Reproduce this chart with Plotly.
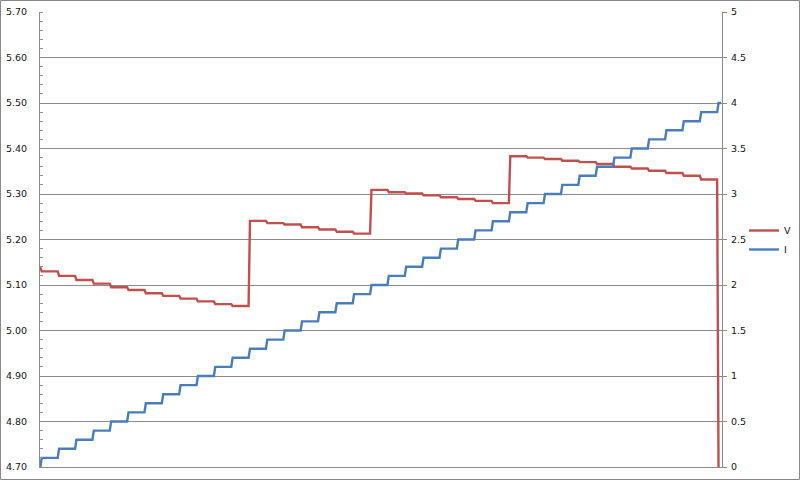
import plotly.graph_objects as go

# --- data ---
# time (s) at which each current level begins
step_times = [0, 1, 11, 21, 31, 41, 51, 61, 71, 81, 91, 101, 111, 121, 131, 141, 151,
              161, 171, 181, 191, 201, 211, 221, 231, 241, 251, 261, 271, 281, 291,
              301, 311, 321, 331, 341, 351, 361, 371, 381, 391]
# current level (A) held during each step
current_levels = [0.0, 0.1, 0.2, 0.3, 0.4, 0.5, 0.6, 0.7, 0.8, 0.9, 1.0, 1.1, 1.2, 1.3,
                  1.4, 1.5, 1.6, 1.7, 1.8, 1.9, 2.0, 2.1, 2.2, 2.3, 2.4, 2.5, 2.6, 2.7,
                  2.8, 2.9, 3.0, 3.1, 3.2, 3.3, 3.4, 3.5, 3.6, 3.7, 3.8, 3.9, 4.0]
# voltage (V) held during each step
voltage_levels = [5.138, 5.130, 5.120, 5.111, 5.103, 5.095, 5.089, 5.082, 5.076, 5.070,
                  5.064, 5.058, 5.054, 5.241, 5.236, 5.233, 5.227, 5.222, 5.217, 5.213,
                  5.309, 5.304, 5.301, 5.297, 5.293, 5.289, 5.285, 5.280, 5.383, 5.380,
                  5.377, 5.373, 5.370, 5.366, 5.360, 5.356, 5.351, 5.346, 5.340, 5.332,
                  4.700]
end_time = 392.5
v_ticks_left = [4.70, 4.80, 4.90, 5.00, 5.10, 5.20, 5.30, 5.40, 5.50, 5.60, 5.70]
i_ticks_right = [0, 0.5, 1, 1.5, 2, 2.5, 3, 3.5, 4, 4.5, 5]

RAMP = 0.8


def staircase(times, levels, t_end):
    xs, ys = [], []
    for i, lvl in enumerate(levels):
        t0 = times[i]
        t1 = (times[i + 1] - RAMP) if i + 1 < len(levels) else t_end
        xs += [t0, t1]
        ys += [lvl, lvl]
    return xs, ys


ix, iy = staircase(step_times, current_levels, end_time)
vx, vy = staircase(step_times, voltage_levels, end_time)
# voltage collapses right at the final step
vx = vx[:-1] + [step_times[-1] + 0.3]
vy = vy[:-1] + [voltage_levels[-1]]

RED = "#C0504D"
BLUE = "#4A7EBB"
GRID = "#8C8C8C"
FONT = dict(family="DejaVu Sans", size=9.5, color="#111111")

fig = go.Figure()
fig.add_trace(go.Scatter(x=vx, y=vy, mode="lines", name="V",
                         line=dict(color=RED, width=2.4), yaxis="y"))
fig.add_trace(go.Scatter(x=ix, y=iy, mode="lines", name="I",
                         line=dict(color=BLUE, width=2.4), yaxis="y2"))

L, R, T, B = 40, 78, 12, 13
W, H = 800, 480
pw, ph = W - L - R, H - T - B

fig.update_layout(
    width=W, height=H,
    margin=dict(l=L, r=R, t=T, b=B, pad=0, autoexpand=False),
    paper_bgcolor="white", plot_bgcolor="white",
    font=FONT,
    showlegend=True,
    legend=dict(x=(744 - L) / pw, y=(H - B - 216) / ph, xanchor="left", yanchor="top",
                bgcolor="rgba(0,0,0,0)", font=FONT, tracegroupgap=0),
    xaxis=dict(range=[0, 393], showticklabels=False, showgrid=False, zeroline=False,
               showline=True, linecolor=GRID, linewidth=1, ticks="", automargin=False),
    yaxis=dict(range=[4.69999, 5.70001], tickvals=v_ticks_left, tickformat=".2f",
               showgrid=True, gridcolor=GRID, gridwidth=1, zeroline=False,
               showline=True, linecolor=GRID, linewidth=1, ticks="",
               ticklabelstandoff=10, automargin=False,
               minor=dict(dtick=0.02, ticks="inside", ticklen=3, tickcolor=GRID,
                          showgrid=False)),
    yaxis2=dict(range=[-0.00005, 5.00005], tickvals=i_ticks_right, overlaying="y",
                side="right", automargin=False,
                showgrid=False, zeroline=False, showline=True, linecolor=GRID,
                linewidth=1, ticks="outside", ticklen=4, tickcolor=GRID,
                ticklabelstandoff=2),
)

# outer chart border
fig.add_shape(type="rect", xref="paper", yref="paper",
              x0=(0.5 - L) / pw, x1=(W - 0.5 - L) / pw,
              y0=-(B - 0.5) / ph, y1=1 + (T - 0.5) / ph,
              line=dict(color="#888888", width=1), layer="below")

fig.write_html("out.html", config={"displayModeBar": False},
               post_script="document.body.style.margin='0';")
